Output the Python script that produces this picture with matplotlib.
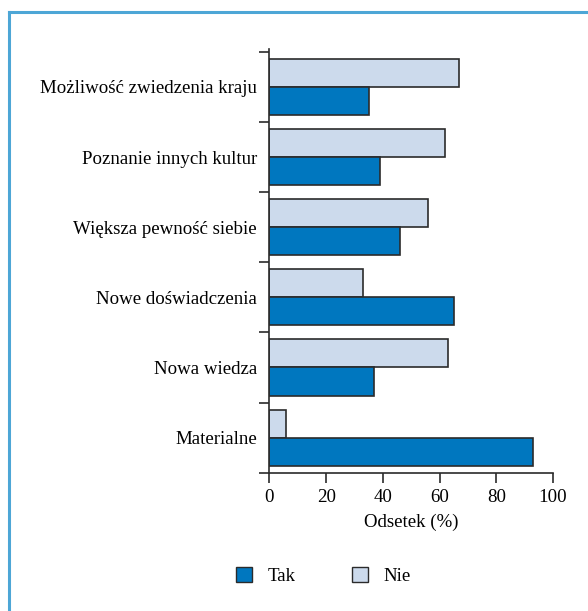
import numpy as np
import matplotlib
matplotlib.use("Agg")
import matplotlib.pyplot as plt
from matplotlib.lines import Line2D
from matplotlib.patches import Patch

plt.rcParams['font.family'] = ['Liberation Serif', 'DejaVu Serif']

# dane (od góry do dołu)
categories = ["Możliwość zwiedzenia kraju", "Poznanie innych kultur",
              "Większa pewność siebie", "Nowe doświadczenia",
              "Nowa wiedza", "Materialne"]
tak = [35, 39, 46, 65, 37, 93]
nie = [67, 62, 56, 33, 63, 6]
x_ticks = [0, 20, 40, 60, 80, 100]

TAK_COLOR = "#0077BF"
NIE_COLOR = "#CCDAEC"
EDGE = "#2b2b2b"
FRAME = "#4DA6D6"
FS = 13.6

fig = plt.figure(figsize=(5.88, 6.11), dpi=100)
ax = fig.add_axes([0.4583, 0.2264, 0.4822, 0.6934])

n = len(categories)
y = np.arange(n)[::-1]  # pierwsza kategoria na górze
h = 0.4
ax.barh(y + h / 2, nie, height=h, color=NIE_COLOR, edgecolor=EDGE, linewidth=1.2)
ax.barh(y - h / 2, tak, height=h, color=TAK_COLOR, edgecolor=EDGE, linewidth=1.2)

ax.set_xlim(0, 100)
ax.set_ylim(-0.5, 5.54)
ax.set_xticks(x_ticks)
ax.set_xticklabels([str(v) for v in x_ticks], fontsize=FS)
ax.set_xlabel("Odsetek (%)", fontsize=FS, labelpad=5)

# podpisy kategorii bez kresek, kreski na granicach grup
ax.set_yticks(y)
ax.set_yticklabels(categories, fontsize=FS)
ax.tick_params(axis='y', length=0, pad=9)
ax.set_yticks(np.arange(n + 1) - 0.5, minor=True)
ax.tick_params(axis='y', which='minor', length=7, width=1.2, color=EDGE, direction='out')
ax.tick_params(axis='x', length=7, width=1.2, color=EDGE, direction='out', pad=5)

for s in ['top', 'right']:
    ax.spines[s].set_visible(False)
for s in ['left', 'bottom']:
    ax.spines[s].set_linewidth(1.2)
    ax.spines[s].set_color(EDGE)

# legenda
handles = [Patch(facecolor=TAK_COLOR, edgecolor=EDGE, label="Tak"),
           Patch(facecolor=NIE_COLOR, edgecolor=EDGE, label="Nie")]
fig.legend(handles=handles, loc='center', bbox_to_anchor=(0.55, 1 - 576 / 611),
           ncol=2, frameon=False, fontsize=FS, handlelength=0.85, handleheight=0.85,
           columnspacing=3.0, handletextpad=0.8)

# niebieska ramka (górna i lewa krawędź)
x0 = 8.5 / 588
y0 = 1 - 11.5 / 611
fig.add_artist(Line2D([x0, 1.0], [y0, y0], color=FRAME, linewidth=2.2, transform=fig.transFigure))
fig.add_artist(Line2D([x0, x0], [y0, 0.0], color=FRAME, linewidth=2.2, transform=fig.transFigure))

fig.savefig("out.png", dpi=100)
